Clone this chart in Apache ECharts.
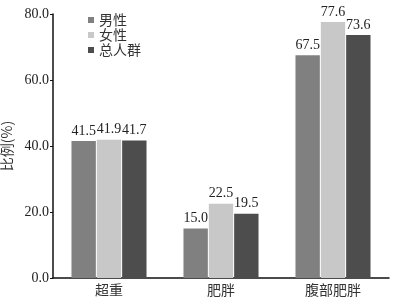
<!DOCTYPE html>
<html lang="zh">
<head>
    <meta charset="UTF-8">
    <title>比例</title>
    <script src="https://cdn.jsdelivr.net/npm/echarts@6/dist/echarts.min.js"></script>
</head>
<body style="margin:0">
<div id="main" style="width:397px; height:303px;"></div>
<script>
    // 数据
    var categories = ['超重', '肥胖', '腹部肥胖'];
    var seriesNames = ['男性', '女性', '总人群'];
    var male = [41.5, 15.0, 67.5];
    var female = [41.9, 22.5, 77.6];
    var total = [41.7, 19.5, 73.6];
    var colors = ['#808080', '#c8c8c8', '#4d4d4d'];

    var numFont = '"Liberation Serif", "DejaVu Serif", serif';
    var cjkFont = '"Noto Sans CJK SC", sans-serif';

    function makeSeries(name, data, color) {
        return {
            name: name,
            type: 'bar',
            data: data,
            barGap: '4%',
            barCategoryGap: '33%',
            itemStyle: { color: color },
            label: {
                show: true,
                position: 'top',
                distance: 3,
                color: '#222',
                fontFamily: numFont,
                fontSize: 14,
                formatter: function (p) { return p.value.toFixed(1); }
            }
        };
    }

    var myChart = echarts.init(document.getElementById('main'));
    var option = {
        animation: false,
        legend: {
            orient: 'vertical',
            left: 83,
            top: 8,
            itemWidth: 6,
            itemHeight: 6,
            itemGap: 1,
            icon: 'rect',
            textStyle: { fontFamily: cjkFont, fontSize: 14, color: '#333' },
            data: seriesNames
        },
        grid: { left: 53, right: 8, top: 14, bottom: 25, outerBoundsMode: 'none', containLabel: false },
        xAxis: {
            type: 'category',
            data: categories,
            axisTick: { show: false },
            axisLine: { lineStyle: { color: '#111', width: 1.5 } },
            axisLabel: { fontFamily: cjkFont, fontSize: 14, color: '#333', margin: 5 }
        },
        yAxis: {
            type: 'value',
            min: 0,
            max: 80,
            interval: 20,
            name: '比例(%)',
            nameLocation: 'middle',
            nameGap: 33,
            nameTextStyle: { fontFamily: cjkFont, fontSize: 14, color: '#333' },
            splitLine: { show: false },
            axisLine: { show: true, lineStyle: { color: '#111', width: 1.5 } },
            axisTick: { show: true, length: 3, lineStyle: { color: '#111' } },
            axisLabel: {
                fontFamily: numFont, fontSize: 14, color: '#222', margin: 4,
                formatter: function (v) { return v.toFixed(1); }
            }
        },
        series: [
            makeSeries(seriesNames[0], male, colors[0]),
            makeSeries(seriesNames[1], female, colors[1]),
            makeSeries(seriesNames[2], total, colors[2])
        ]
    };
    myChart.setOption(option);
</script>
</body>
</html>
